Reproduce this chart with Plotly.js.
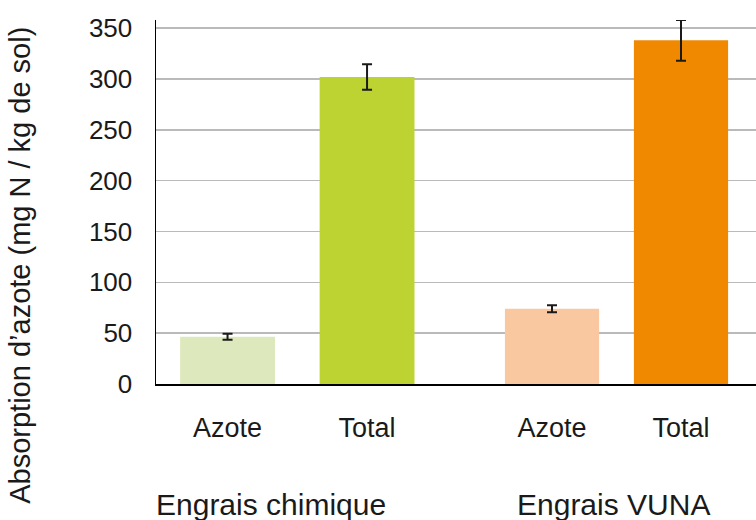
<!DOCTYPE html>
<html>
<head>
<meta charset="utf-8">
<script src="https://cdn.plot.ly/plotly-3.0.1.min.js"></script>
<style>html,body{margin:0;padding:0;background:#fff;}#chart{width:756px;height:520px;}</style>
</head>
<body>
<div id="chart"></div>
<script>
// Data
const barLabels = ["Azote", "Total"];
const groupLabels = ["Engrais chimique", "Engrais VUNA"];
const chimiqueValues = [46.5, 302];
const chimiqueErrors = [3, 12.5];
const vunaValues = [74, 338];
const vunaErrors = [3.5, 20];
const chimiqueColors = ["#dde9bd", "#bdd332"];
const vunaColors = ["#f9c7a0", "#f08800"];
const yTickVals = [0, 50, 100, 150, 200, 250, 300, 350];
const yTitle = "Absorption d’azote (mg N / kg de sol)";

const FONT = "Liberation Sans, Arial, sans-serif";
const errStyle = {type: "data", visible: true, color: "#1a1a1a", thickness: 2, width: 5};

const traces = [
  {type: "scatter", x: [], y: [], xaxis: "x", yaxis: "y", showlegend: false, hoverinfo: "skip"},
  {type: "bar", x: barLabels, y: chimiqueValues, xaxis: "x2", yaxis: "y",
   marker: {color: chimiqueColors}, width: 0.68, cliponaxis: false,
   error_y: Object.assign({array: chimiqueErrors}, errStyle), showlegend: false},
  {type: "bar", x: barLabels, y: vunaValues, xaxis: "x3", yaxis: "y",
   marker: {color: vunaColors}, width: 0.73, cliponaxis: false,
   error_y: Object.assign({array: vunaErrors}, errStyle), showlegend: false}
];

const catAxis = (domain) => ({
  domain: domain, anchor: "y", type: "category",
  showline: false, showgrid: false, zeroline: false, ticks: "",
  tickfont: {family: FONT, size: 27, color: "#1a1a1a"},
  ticklabelstandoff: 25, fixedrange: true
});

const layout = {
  width: 756, height: 520,
  margin: {l: 156, r: 0, t: 20, b: 136, pad: 0},
  paper_bgcolor: "#ffffff", plot_bgcolor: "rgba(0,0,0,0)",
  showlegend: false,
  font: {family: FONT, color: "#1a1a1a"},
  xaxis: {domain: [0, 1], range: [0, 1], showticklabels: false, showgrid: false,
          zeroline: false, showline: true, linecolor: "#000000", linewidth: 2, ticks: "", fixedrange: true},
  xaxis2: catAxis([0.003, 0.468]),
  xaxis3: catAxis([0.5525, 0.9825]),
  yaxis: {anchor: "x", range: [0, 358], tickvals: yTickVals, ticktext: yTickVals.map(String),
          showgrid: true, gridcolor: "#bababa", gridwidth: 1.5, zeroline: false,
          showline: true, linecolor: "#000000", linewidth: 1.5, ticks: "",
          tickfont: {family: FONT, size: 26, color: "#1a1a1a"}, ticklabelstandoff: 17, fixedrange: true},
  annotations: [
    {text: groupLabels[0], xref: "paper", yref: "paper", x: 0.1917, y: -0.332,
     xanchor: "center", yanchor: "middle", showarrow: false,
     font: {family: FONT, size: 30, color: "#1a1a1a"}},
    {text: groupLabels[1], xref: "paper", yref: "paper", x: 0.763, y: -0.332,
     xanchor: "center", yanchor: "middle", showarrow: false,
     font: {family: FONT, size: 30, color: "#1a1a1a"}},
    {text: yTitle, xref: "paper", yref: "paper", x: -0.2267, y: 0.3275,
     xanchor: "center", yanchor: "middle", textangle: -90, showarrow: false,
     font: {family: FONT, size: 29, color: "#1a1a1a"}}
  ]
};

Plotly.newPlot("chart", traces, layout, {staticPlot: true, displayModeBar: false});
</script>
</body>
</html>
